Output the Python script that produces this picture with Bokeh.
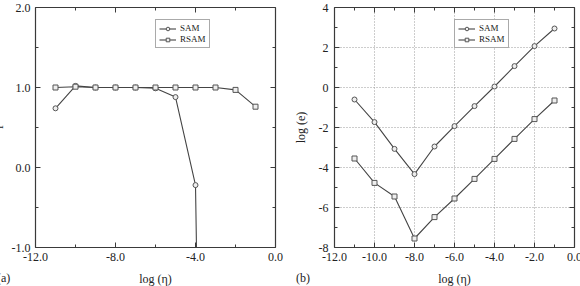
from bokeh.plotting import figure
from bokeh.layouts import row, column
from bokeh.models import (LinearAxis, FixedTicker, NumeralTickFormatter, Range1d,
                          Legend, LegendItem, CustomJSTickFormatter, Div)
from bokeh.embed import file_html
from bokeh.resources import INLINE

# ---- data -------------------------------------------------------------
# (a) normalised value vs log(eta)
a_sam_x = [-11, -10, -9, -8, -7, -6, -5, -4, -3]
a_sam_y = [0.74, 1.02, 1.0, 1.0, 1.0, 0.99, 0.88, -0.22, -16.0]
a_rsam_x = [-11, -10, -9, -8, -7, -6, -5, -4, -3, -2, -1]
a_rsam_y = [1.0, 1.01, 1.0, 1.0, 1.0, 1.0, 1.0, 1.0, 1.0, 0.97, 0.76]

# (b) log(e) vs log(eta)
b_x = [-11, -10, -9, -8, -7, -6, -5, -4, -3, -2, -1]
b_sam_y = [-0.6, -1.73, -3.07, -4.33, -2.95, -1.93, -0.93, 0.05, 1.07, 2.07, 2.95]
b_rsam_y = [-3.55, -4.77, -5.45, -7.55, -6.48, -5.55, -4.57, -3.57, -2.57, -1.58, -0.65]

a_xticks = [-12, -8, -4, 0]
a_xminor = [-10, -6, -2]
a_yticks = [-1.0, 0.0, 1.0, 2.0]
a_yminor = [-0.5, 0.5, 1.5]
b_xticks = [-12, -10, -8, -6, -4, -2, 0]
b_xminor = [-11, -9, -7, -5, -3, -1]
b_yticks = [-8, -6, -4, -2, 0, 2, 4]
b_yminor = [-7, -5, -3, -1, 1, 3]

panel_tags = ["(a)", "(b)"]
a_ylabel = "f"

FONT = "Liberation Serif"
INK = "#3a3a3a"
LINE = "#444444"
TXT = "#222222"


def style_axis(ax, ticks, minor, fmt, standoff=5):
    ax.ticker = FixedTicker(ticks=ticks, minor_ticks=minor)
    ax.formatter = NumeralTickFormatter(format=fmt) if fmt else CustomJSTickFormatter(code="return ''")
    ax.axis_line_color = INK
    ax.axis_line_width = 1.2
    ax.major_tick_line_color = INK
    ax.minor_tick_line_color = INK
    ax.major_tick_in = 5
    ax.major_tick_out = 0
    ax.minor_tick_in = 3
    ax.minor_tick_out = 0
    ax.major_label_text_font = FONT
    ax.major_label_text_color = TXT
    ax.major_label_text_font_size = "12px"
    ax.major_label_standoff = standoff if fmt else 0
    ax.axis_label_text_font = FONT
    ax.axis_label_text_font_style = "normal"
    ax.axis_label_text_font_size = "12px"
    ax.axis_label_text_color = TXT


def make_fig(xr, yr, left, right):
    p = figure(frame_width=240, frame_height=240, x_range=Range1d(*xr), y_range=Range1d(*yr),
               output_backend="svg", toolbar_location=None,
               min_border_left=left, min_border_right=right,
               min_border_top=7, min_border_bottom=39,
               background_fill_color="white", border_fill_color="white")
    p.outline_line_color = None
    return p


def add_mirror(p, xt, xm, yt, ym):
    top = LinearAxis()
    style_axis(top, xt, xm, None)
    rgt = LinearAxis()
    style_axis(rgt, yt, ym, None)
    p.add_layout(top, "above")
    p.add_layout(rgt, "right")


def add_series(p, x, y, marker):
    ln = p.line(x, y, line_color=LINE, line_width=1.1)
    sc = p.scatter(x, y, marker=marker, size=5, line_color="#555555",
                   fill_color="#eeeeee", line_width=1)
    return ln, sc


def add_legend(p, items):
    lg = Legend(items=items, location=(120, 199),
                label_text_font=FONT, label_text_font_size="9px",
                label_text_color=TXT,
                glyph_width=17, glyph_height=9, label_height=9,
                label_standoff=4, spacing=1, padding=3, margin=0,
                border_line_color="#555555", border_line_width=1,
                background_fill_alpha=1.0)
    p.add_layout(lg, "center")


# ---- panel (a) --------------------------------------------------------
pa = make_fig((-12, 0), (-1, 2), 35, 15)
pa.xgrid.visible = False
pa.ygrid.visible = False
style_axis(pa.xaxis[0], a_xticks, a_xminor, "0.0")
style_axis(pa.yaxis[0], a_yticks, a_yminor, "0.0", standoff=5)
pa.xaxis[0].axis_label = "log (η)"
pa.xaxis[0].axis_label_standoff = 8
add_mirror(pa, a_xticks, a_xminor, a_yticks, a_yminor)
l1, s1 = add_series(pa, a_sam_x, a_sam_y, "circle")
l2, s2 = add_series(pa, a_rsam_x, a_rsam_y, "square")
add_legend(pa, [LegendItem(label="SAM", renderers=[l1, s1]),
                LegendItem(label="RSAM", renderers=[l2, s2])])

# ---- panel (b) --------------------------------------------------------
pb = make_fig((-12, 0), (-8, 4), 41, 9)
style_axis(pb.xaxis[0], b_xticks, b_xminor, "0.0")
style_axis(pb.yaxis[0], b_yticks, b_yminor, "0", standoff=6)
pb.xaxis[0].axis_label = "log (η)"
pb.xaxis[0].axis_label_standoff = 8
pb.yaxis[0].axis_label = "log (e)"
pb.yaxis[0].axis_label_standoff = 8
add_mirror(pb, b_xticks, b_xminor, b_yticks, b_yminor)
for g in (pb.xgrid[0], pb.ygrid[0]):
    g.grid_line_color = "#9a9a9a"
    g.grid_line_dash = "1 2"
    g.grid_line_width = 1
pb.xgrid[0].ticker = FixedTicker(ticks=b_xticks)
pb.ygrid[0].ticker = FixedTicker(ticks=b_yticks)
l3, s3 = add_series(pb, b_x, b_sam_y, "circle")
l4, s4 = add_series(pb, b_x, b_rsam_y, "square")
add_legend(pb, [LegendItem(label="SAM", renderers=[l3, s3]),
                LegendItem(label="RSAM", renderers=[l4, s4])])

# ---- panel tags and the clipped y label of (a), laid over the plots ---
span = ("position:absolute;left:{l}px;top:{t}px;font-family:'Liberation Serif';"
        "font-size:12px;line-height:12px;color:#222;white-space:nowrap;{extra}")
overlay_html = (
    "<div style='position:relative;width:580px;height:286px;z-index:5;pointer-events:none'>"
    + "<span style=\"" + span.format(l=-3, t=272, extra="") + "\">" + panel_tags[0] + "</span>"
    + "<span style=\"" + span.format(l=296, t=272, extra="") + "\">" + panel_tags[1] + "</span>"
    + "<span style=\"" + span.format(l=-3, t=121, extra="transform:rotate(-90deg);") + "\">"
    + a_ylabel + "</span>"
    + "</div>"
)
# placed first and pulled back by its own height so the plots start at the top
overlay = Div(text=overlay_html, width=580, height=286, margin=(0, 0, -286, 0))

layout = column(overlay, row(pa, pb, spacing=0), spacing=0)
open("out.html", "w").write(file_html(layout, INLINE))
